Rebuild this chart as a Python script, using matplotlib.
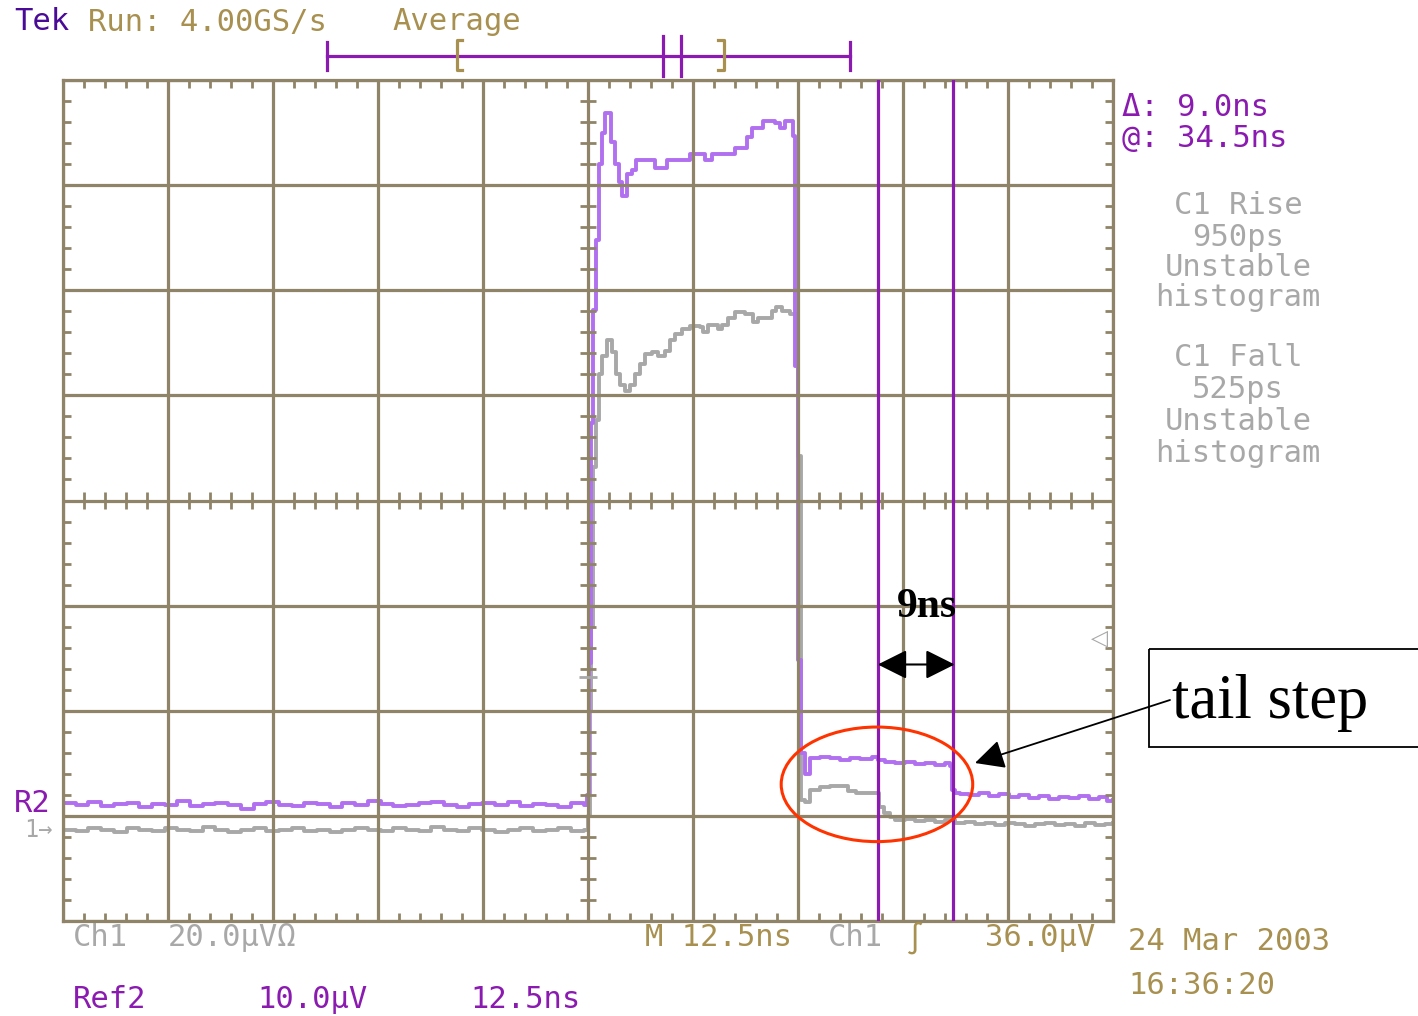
import numpy as np
import matplotlib
matplotlib.use("Agg")
import matplotlib.pyplot as plt
from matplotlib.patches import Ellipse, Rectangle
from matplotlib.ticker import MultipleLocator

# time in ns (12.5 ns/div), amplitude in divisions
ns_per_div = 12.5
cursor_a = 97.0
cursor_b = 105.95
trigger_t = 62.5
trigger_level = 2.32

purple_base = [1.12, 1.10, 1.13, 1.09, 1.11, 1.12, 1.08, 1.11, 1.10, 1.14, 1.09, 1.11, 1.12, 1.10,
               1.07, 1.11, 1.13, 1.10, 1.09, 1.12, 1.11, 1.08, 1.12, 1.10, 1.14, 1.11, 1.09, 1.10,
               1.12, 1.13, 1.10, 1.08, 1.11, 1.12, 1.10, 1.13, 1.09, 1.11, 1.10, 1.08, 1.12, 1.10]
purple_t = [62.4, 62.6, 62.9, 63.1, 63.5, 63.8, 64.2, 64.5, 65.2, 65.7, 66.2, 66.5, 67.1, 67.7,
            68.2, 70.0, 70.5, 71.9, 74.6, 76.4, 77.3, 80.0, 81.4, 82.0, 83.3, 84.8, 85.4, 86.0,
            86.9, 87.2, 87.5, 87.9,
            88.3, 88.9, 90.1, 91.3, 92.5, 93.7, 94.9, 96.3, 97.0, 97.9, 99.0, 100.2, 101.4, 102.6,
            103.8, 105.0, 105.6, 105.8, 106.2,
            106.8, 107.9, 109.0, 110.2, 111.4, 112.6, 113.8, 115.0, 116.2, 117.4, 118.6, 119.8,
            121.0, 122.1, 123.3, 124.3, 125.0]
purple_v = [1.20, 2.45, 4.74, 5.81, 6.48, 7.20, 7.50, 7.69, 7.41, 7.20, 7.03, 6.90, 7.11, 7.14,
            7.24, 7.24, 7.16, 7.24, 7.30, 7.24, 7.30, 7.35, 7.46, 7.54, 7.61, 7.59, 7.54, 7.61,
            7.47, 5.28, 2.48, 1.60,
            1.40, 1.55, 1.56, 1.55, 1.53, 1.55, 1.54, 1.56, 1.53, 1.51, 1.50, 1.51, 1.49, 1.50,
            1.48, 1.50, 1.47, 1.25, 1.22,
            1.21, 1.20, 1.22, 1.19, 1.21, 1.18, 1.20, 1.17, 1.19, 1.16, 1.18, 1.17,
            1.19, 1.16, 1.18, 1.14, 1.15]

gray_base = [0.87, 0.86, 0.88, 0.87, 0.85, 0.88, 0.87, 0.86, 0.88, 0.87, 0.86, 0.89, 0.87, 0.85,
             0.87, 0.88, 0.86, 0.87, 0.88, 0.86, 0.87, 0.85, 0.87, 0.88, 0.87, 0.86, 0.88, 0.87,
             0.86, 0.89, 0.87, 0.86, 0.88, 0.87, 0.85, 0.87, 0.88, 0.86, 0.87, 0.88, 0.86, 0.87]
gray_t = [62.5, 62.7, 62.9, 63.1, 63.5, 63.8, 64.2, 64.8, 65.4, 65.8, 66.3, 66.9, 67.5, 68.1,
          68.7, 69.3, 70.1, 70.8, 71.7, 72.3, 72.9, 73.7, 74.6, 75.8, 76.2, 76.8, 78.0, 78.5,
          79.2, 80.0, 81.2, 82.1, 82.7, 84.4, 84.9, 85.6, 86.6, 87.5, 87.9,
          88.3, 88.9, 90.1, 91.3, 92.5, 93.5, 94.4, 95.5, 96.9, 97.1, 97.7, 98.5, 99.0, 100.2,
          101.4, 102.6, 103.8, 105.0, 106.2,
          107.4, 108.6, 109.8, 111.0, 112.1, 113.3, 114.5, 115.7, 116.9, 118.1, 119.3, 120.5,
          121.7, 122.9, 124.0, 125.0]
gray_v = [1.00, 2.00, 2.80, 4.32, 4.77, 5.20, 5.37, 5.53, 5.41, 5.20, 5.10, 5.04, 5.10, 5.20,
          5.30, 5.39, 5.41, 5.37, 5.42, 5.53, 5.58, 5.63, 5.66, 5.65, 5.60, 5.67, 5.63, 5.67,
          5.74, 5.79, 5.77, 5.70, 5.74, 5.80, 5.84, 5.80, 5.77, 4.42, 1.15,
          1.13, 1.25, 1.27, 1.28, 1.28, 1.24, 1.22, 1.22, 1.22, 1.08, 1.03, 0.99, 0.96, 0.97,
          0.95, 0.96, 0.94, 0.96, 0.93,
          0.94, 0.92, 0.93, 0.91, 0.93, 0.92, 0.90, 0.92, 0.93, 0.91, 0.92, 0.90,
          0.93, 0.91, 0.92, 0.93]

grid_col = "#8f8468"
purple = "#b070f0"
gray = "#a8a8a8"
cursor_col = "#8a1ab0"
gold = "#a89050"
W, H = 1418, 1016

fig = plt.figure(figsize=(W / 100, H / 100), dpi=100)
fig.patch.set_facecolor("white")
ax = fig.add_axes([63 / W, (H - 921) / H, 1050 / W, 841 / H])

tp = np.concatenate([np.linspace(0, 62.0, len(purple_base)), purple_t])
vp = np.concatenate([purple_base, purple_v])
tg = np.concatenate([np.linspace(0, 62.0, len(gray_base)), gray_t])
vg = np.concatenate([gray_base, gray_v])

ax.plot(tg, vg, drawstyle="steps-post", color=gray, lw=2.8, zorder=2)
ax.plot(tp, vp, drawstyle="steps-post", color=purple, lw=2.8, zorder=2)

ax.set_xlim(0, 10 * ns_per_div)
ax.set_ylim(0, 8)
ax.set_xticks(np.arange(0, 10 * ns_per_div + 1, ns_per_div))
ax.set_yticks(np.arange(0, 9, 1))
ax.xaxis.set_minor_locator(MultipleLocator(ns_per_div / 5))
ax.yaxis.set_minor_locator(MultipleLocator(0.2))
ax.tick_params(which="major", length=0, labelbottom=False, labelleft=False)
ax.tick_params(which="minor", direction="in", length=6, width=2, color=grid_col,
               top=True, right=True, bottom=True, left=True)
ax.grid(True, color=grid_col, lw=2.3)
ax.set_axisbelow(False)
for s in ax.spines.values():
    s.set_color(grid_col)
    s.set_linewidth(2.3)

# ticks on the centre lines
xm = [x for x in np.arange(0, 125.01, 2.5) if abs(x / 12.5 - round(x / 12.5)) > 1e-6]
ym = [y for y in np.arange(0, 8.01, 0.2) if abs(y - round(y)) > 1e-6]
ax.vlines(xm, 4 - 0.08, 4 + 0.08, color=grid_col, lw=2, zorder=2.6)
ax.hlines(ym, 62.5 - 1.0, 62.5 + 1.0, color=grid_col, lw=2, zorder=2.6)

# trigger marker
ax.hlines(trigger_level, trigger_t - 1.1, trigger_t + 1.1, color=gray, lw=2, zorder=2.7)

# cursors
for c in (cursor_a, cursor_b):
    ax.axvline(c, color=cursor_col, lw=2.3, zorder=4)

ax.annotate("", xy=(cursor_b + 0.2, 2.44), xytext=(cursor_a, 2.44),
            arrowprops=dict(arrowstyle="<|-|>,head_length=0.6,head_width=0.3", color="black",
                            lw=1.5, mutation_scale=30, shrinkA=0, shrinkB=0), zorder=5)
ax.text((cursor_a + cursor_b) / 2 + 1.4, 2.99, "9ns", ha="center", va="center",
        family="Liberation Serif", weight="bold", fontsize=30, color="black", zorder=5)
ax.add_patch(Ellipse((96.9, 1.30), 22.8, 1.09, fill=False, ec="#ff3300", lw=2.2,
                     clip_on=False, zorder=5))

# overlay in pixel coordinates for the screen texts
ov = fig.add_axes([0, 0, 1, 1], zorder=5)
ov.set_xlim(0, W)
ov.set_ylim(H, 0)
ov.axis("off")
ov.patch.set_alpha(0)

mono = dict(family="DejaVu Sans Mono", fontsize=22, va="center")
ov.text(14, 22, "Tek", color="#4a0c96", **mono)
ov.text(88, 22, "Run: 4.00GS/s", color=gold, **mono)
ov.text(392, 22, "Average", color=gold, **mono)
ov.text(1122, 108, "Δ: 9.0ns", color=cursor_col, **mono)
ov.text(1122, 139, "@: 34.5ns", color=cursor_col, **mono)
meas = [("C1 Rise", 206), ("950ps", 237), ("Unstable", 268), ("histogram", 298),
        ("C1 Fall", 358), ("525ps", 390), ("Unstable", 421), ("histogram", 453)]
for s, y in meas:
    ov.text(1238, y, s, color=gray, ha="center", **mono)
ov.text(14, 803, "R2", color=cursor_col, **mono)
ov.text(24, 830, "1→", color=gray, family="DejaVu Sans Mono", fontsize=17, va="center")
ov.text(73, 938, "Ch1", color=gray, **mono)
ov.text(168, 938, "20.0µVΩ", color=gray, **mono)
ov.text(645, 938, "M 12.5ns", color=gold, **mono)
ov.text(828, 938, "Ch1", color=gray, **mono)
ov.text(905, 938, "∫", color=gold, **mono)
ov.text(985, 938, "36.0µV", color=gold, **mono)
ov.text(1128, 942, "24 Mar 2003", color=gold, **mono)
ov.text(1128, 985, "16:36:20", color=gold, **mono)
ov.text(73, 1000, "Ref2", color=cursor_col, **mono)
ov.text(257, 1000, "10.0µV", color=cursor_col, **mono)
ov.text(470, 1000, "12.5ns", color=cursor_col, **mono)
ov.text(1100, 638, "◁", color=gray, family="DejaVu Sans", fontsize=16, ha="center", va="center")

# record view bar at the top
ov.plot([327, 850], [56, 56], color=cursor_col, lw=2.3)
for x in (327, 850):
    ov.plot([x, x], [42, 70], color=cursor_col, lw=2.3)
for x in (663, 681):
    ov.plot([x, x], [36, 76], color=cursor_col, lw=2.3)
ov.plot([462, 457, 457, 462], [40, 40, 70, 70], color=gold, lw=2.3)
ov.plot([718, 724, 724, 718], [40, 40, 70, 70], color=gold, lw=2.3)

# callout box
ov.add_patch(Rectangle((1149, 649), 280, 98, fill=False, ec="black", lw=1.3))
ov.text(1172, 703, "tail step", family="Liberation Serif", fontsize=45, color="black",
        ha="left", va="center")
ov.annotate("", xy=(975, 763), xytext=(1170, 700),
            arrowprops=dict(arrowstyle="-|>,head_length=0.6,head_width=0.3", color="black",
                            lw=1.3, mutation_scale=30, shrinkA=0, shrinkB=0))

fig.savefig("out.png", dpi=100)
